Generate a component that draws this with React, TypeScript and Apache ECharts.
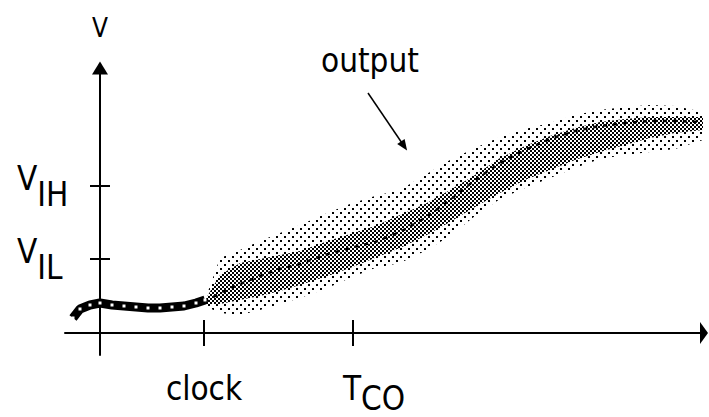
import React, { useEffect, useRef } from 'react';
import * as echarts from 'echarts';

// ---- data (time in arbitrary units, voltage in arbitrary units) ----
const preClockTime = [-2.7, -2.0, -1.0, 0, 1.2, 2.4, 3.6, 4.8, 6.0, 7.2, 8.4, 9.6, 10.5];
const preClockLevel = [1.5, 2.4, 2.8, 3.0, 2.8, 2.7, 2.6, 2.5, 2.5, 2.6, 2.7, 3.0, 3.3];

const timeSteps = [10.5, 12, 14, 16, 18, 20, 22.5, 25, 27.5, 30, 32.5, 35, 37.5, 40, 42.5, 45, 47.5, 50, 52.5, 55, 57.5, 60.3];
const outerUpper = [3.3, 7.5, 8.3, 9.2, 10.0, 10.8, 11.9, 12.9, 13.7, 14.3, 15.8, 17.3, 18.5, 19.6, 20.4, 21.0, 21.8, 22.3, 22.6, 22.8, 22.7, 22.1];
const outerLower = [2.7, 2.0, 1.8, 2.3, 2.9, 3.5, 4.4, 5.5, 6.5, 7.0, 8.2, 9.7, 11.7, 13.4, 14.5, 15.5, 16.5, 17.4, 17.8, 18.1, 18.4, 19.3];
const innerUpper = [3.3, 5.8, 7.0, 7.4, 7.8, 8.2, 9.1, 9.9, 10.7, 11.8, 12.9, 14.3, 15.8, 17.5, 18.7, 19.7, 20.5, 21.1, 21.4, 21.6, 21.6, 21.6];
const innerLower = [2.9, 2.9, 3.3, 3.7, 4.2, 4.8, 5.6, 6.5, 7.5, 8.5, 9.7, 11.1, 12.6, 14.0, 15.3, 16.3, 17.3, 18.1, 18.8, 19.5, 20.0, 20.3];
const coreTrace = [3.1, 4.0, 4.9, 5.7, 6.4, 6.9, 7.8, 8.5, 9.1, 10.1, 11.5, 13.3, 15.3, 17.0, 18.3, 19.4, 20.2, 20.7, 21.0, 21.2, 21.2, 21.1];

const xTickValues = [10.4, 25.3];
const xTickLabels = ['clock', 'T_CO'];
const yTickValues = [7.4, 14.7];
const yTickLabels = ['V_IL', 'V_IH'];
const axisName = 'V';
const annotationText = 'output';
const arrowFrom = [26.8, 24.0];
const arrowTo = [30.4, 18.7];

const X_MIN = -3.5;
const X_MAX = 60.4;
const Y_MIN = -2.2;
const Y_MAX = 26.5;

const FONT = '"DejaVu Sans Condensed", "Liberation Sans Narrow", sans-serif';
const FS = 33;

function makePattern(size: number, cells: number[][], dot: number) {
  const c = document.createElement('canvas');
  c.width = size;
  c.height = size;
  const ctx = c.getContext('2d')!;
  ctx.fillStyle = '#000';
  cells.forEach(([x, y]) => ctx.fillRect(x, y, dot, dot));
  return { image: c, repeat: 'repeat', imageWidth: size, imageHeight: size } as any;
}

function findLabel(values: number[], labels: string[], v: number) {
  const i = values.findIndex((t) => Math.abs(t - v) < 1e-6);
  return i >= 0 ? labels[i] : '';
}

function bandSeries(upper: number[], lower: number[], fill: any, z: number) {
  return {
    type: 'custom',
    xAxisIndex: 0,
    yAxisIndex: 0,
    z,
    silent: true,
    data: timeSteps.map((t, i) => [t, lower[i], upper[i]]),
    encode: { x: 0, y: [1, 2] },
    renderItem: (params: any, api: any) => {
      if (params.dataIndex !== 0) return null;
      const pts: number[][] = [];
      for (let i = 0; i < timeSteps.length; i++) pts.push(api.coord([timeSteps[i], upper[i]]));
      for (let i = timeSteps.length - 1; i >= 0; i--) pts.push(api.coord([timeSteps[i], lower[i]]));
      return { type: 'polygon', shape: { points: pts }, style: { fill, stroke: null } };
    },
  };
}

export default function App() {
  const ref = useRef<HTMLDivElement>(null);
  useEffect(() => {
    const chart = echarts.init(ref.current!, null, { renderer: 'svg' });
    const sparse = makePattern(8, [[0, 0], [4, 4]], 2);
    const dense = makePattern(4, [[0, 0], [2, 2]], 2);

    const xRich = {
      m: { fontFamily: FONT, fontSize: FS, color: '#000', verticalAlign: 'top' },
      s: { fontFamily: FONT, fontSize: FS, color: '#000', lineHeight: FS + 10, verticalAlign: 'bottom' },
      pad: { width: 42 },
    };
    const yRich = {
      m: { fontFamily: FONT, fontSize: FS, color: '#000', verticalAlign: 'top' },
      s: { fontFamily: FONT, fontSize: FS, color: '#000', lineHeight: FS + 16, verticalAlign: 'bottom' },
    };

    const axisLineStyle = { color: '#000', width: 2 };

    const option: any = {
      animation: false,
      backgroundColor: '#fff',
      grid: { left: 65, right: 5, top: 68, bottom: 62, containLabel: false, outerBoundsMode: 'none' },
      xAxis: [
        {
          type: 'value',
          min: X_MIN,
          max: X_MAX,
          position: 'bottom',
          axisLine: {
            show: true,
            onZero: true,
            onZeroAxisIndex: 0,
            symbol: ['none', 'triangle'],
            symbolSize: [22, 8],
            lineStyle: axisLineStyle,
          },
          axisTick: { show: true, inside: false, length: 13, customValues: xTickValues, lineStyle: axisLineStyle },
          axisLabel: {
            show: true,
            customValues: xTickValues,
            margin: 17,
            formatter: (v: number) => {
              const lab = findLabel(xTickValues, xTickLabels, v);
              const [m, s] = lab.split('_');
              return s ? `{pad| }{m|${m}}{s|${s}}` : `{m|${m}}`;
            },
            rich: xRich,
          },
          splitLine: { show: false },
        },
        {
          type: 'value',
          min: X_MIN,
          max: X_MAX,
          position: 'bottom',
          axisLine: { show: false, onZero: true, onZeroAxisIndex: 0 },
          axisTick: { show: true, inside: true, length: 13, customValues: xTickValues, lineStyle: axisLineStyle },
          axisLabel: { show: false },
          splitLine: { show: false },
        },
      ],
      yAxis: [
        {
          type: 'value',
          min: Y_MIN,
          max: Y_MAX,
          position: 'left',
          name: axisName,
          nameLocation: 'end',
          nameGap: 27,
          nameTextStyle: { fontFamily: FONT, fontSize: 26, color: '#000' },
          axisLine: {
            show: true,
            onZero: true,
            onZeroAxisIndex: 0,
            symbol: ['none', 'triangle'],
            symbolSize: [16, 13],
            lineStyle: axisLineStyle,
          },
          axisTick: { show: true, inside: false, length: 10, customValues: yTickValues, lineStyle: axisLineStyle },
          axisLabel: {
            show: true,
            customValues: yTickValues,
            margin: 48,
            align: 'left',
            formatter: (v: number) => {
              const lab = findLabel(yTickValues, yTickLabels, v);
              const [m, s] = lab.split('_');
              return s ? `{m|${m}}{s|${s}}` : `{m|${m}}`;
            },
            rich: yRich,
          },
          splitLine: { show: false },
        },
        {
          type: 'value',
          min: Y_MIN,
          max: Y_MAX,
          position: 'left',
          axisLine: { show: false, onZero: true, onZeroAxisIndex: 0 },
          axisTick: { show: true, inside: true, length: 10, customValues: yTickValues, lineStyle: axisLineStyle },
          axisLabel: { show: false },
          splitLine: { show: false },
        },
      ],
      graphic: [
        {
          type: 'text',
          left: 321,
          top: 44,
          silent: true,
          style: { text: annotationText, font: `${FS}px ${FONT}`, fill: '#000' },
        },
      ],
      series: [
        bandSeries(outerUpper, outerLower, sparse, 2),
        bandSeries(innerUpper, innerLower, dense, 3),
        {
          type: 'line',
          xAxisIndex: 0,
          yAxisIndex: 0,
          z: 4,
          silent: true,
          data: timeSteps.map((t, i) => [t, coreTrace[i]]),
          showSymbol: false,
          symbol: 'none',
          lineStyle: { color: '#000', width: 2.5, type: [4, 6] },
          markLine: {
            silent: true,
            symbol: ['none', 'triangle'],
            symbolSize: [9, 11],
            label: { show: false },
            lineStyle: { color: '#000', width: 1.5, type: 'solid' },
            emphasis: { disabled: true },
            data: [[{ coord: arrowFrom }, { coord: arrowTo }]],
          },
        },
        {
          type: 'line',
          xAxisIndex: 0,
          yAxisIndex: 0,
          z: 5,
          silent: true,
          data: preClockTime.map((t, i) => [t, preClockLevel[i]]),
          showSymbol: true,
          symbol: 'rect',
          symbolSize: 3,
          itemStyle: { color: '#fff' },
          lineStyle: { color: '#000', width: 9 },
        },
      ],
    };
    chart.setOption(option);
    return () => chart.dispose();
  }, []);
  return <div ref={ref} style={{ position: 'fixed', left: 0, top: 0, width: 709, height: 417 }} />;
}
